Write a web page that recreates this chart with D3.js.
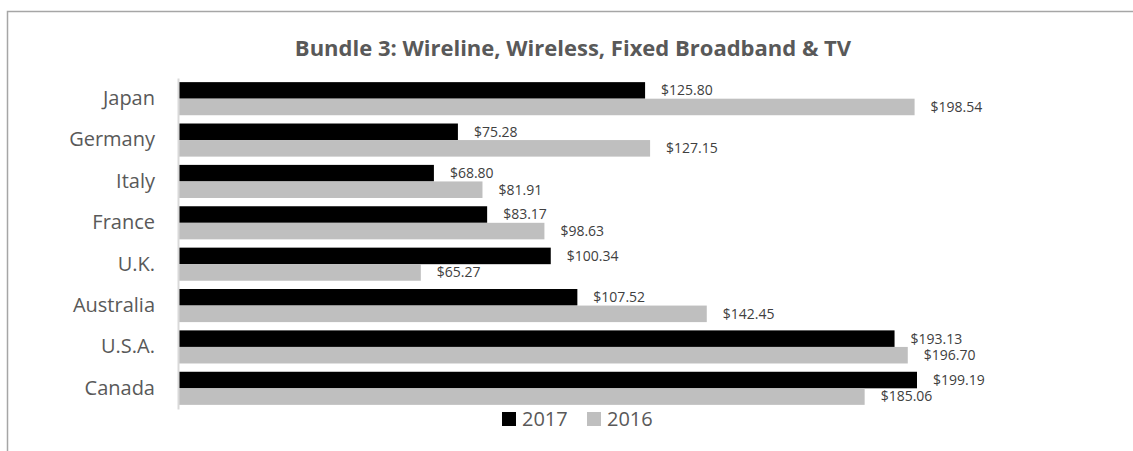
<!DOCTYPE html>
<html>
<head>
<meta charset="utf-8">
<script src="https://cdn.jsdelivr.net/npm/d3@7"></script>
<style>
  html, body { margin: 0; padding: 0; background: #fff; }
  svg { display: block; font-family: "Open Sans", sans-serif; }
</style>
</head>
<body>
<svg id="chart" width="1133" height="451"></svg>
<script>
// Monthly price of Bundle 3 by country, two years
const categories = ["Japan", "Germany", "Italy", "France", "U.K.", "Australia", "U.S.A.", "Canada"];
const values2017 = [125.80, 75.28, 68.80, 83.17, 100.34, 107.52, 193.13, 199.19];
const values2016 = [198.54, 127.15, 81.91, 98.63, 65.27, 142.45, 196.70, 185.06];
const seriesNames = ["2017", "2016"];
const seriesColors = ["#000000", "#bfbfbf"];
const title = "Bundle 3: Wireline, Wireless, Fixed Broadband & TV";

const svg = d3.select("#chart");

// outer frame
svg.append("path")
  .attr("d", "M7.5,451 L7.5,11.5 L1133,11.5")
  .attr("fill", "none")
  .attr("stroke", "#a6a6a6")
  .attr("stroke-width", 1.5);

svg.append("text")
  .attr("x", 573)
  .attr("y", 56)
  .attr("text-anchor", "middle")
  .attr("font-weight", "bold")
  .attr("font-size", 22)
  .attr("fill", "#595959")
  .text(title);

const x0 = 179;
const x = d3.scaleLinear().domain([0, 199.19]).range([x0, 917]);
const y = d3.scaleBand().domain(categories).range([78, 409]).paddingInner(0.2).paddingOuter(0.1);
const sub = d3.scaleBand().domain(seriesNames).range([0, y.bandwidth()]);

const rows = categories.map((c, i) => ({ cat: c, vals: [values2017[i], values2016[i]] }));

const g = svg.append("g");
const groups = g.selectAll("g.row").data(rows).join("g")
  .attr("transform", d => `translate(0,${y(d.cat)})`);

groups.selectAll("rect").data(d => d.vals.map((v, k) => ({ v, k })))
  .join("rect")
  .attr("x", x(0))
  .attr("y", d => sub(seriesNames[d.k]))
  .attr("width", d => x(d.v) - x(0))
  .attr("height", sub.bandwidth())
  .attr("fill", d => seriesColors[d.k]);

groups.selectAll("text.val").data(d => d.vals.map((v, k) => ({ v, k })))
  .join("text")
  .attr("class", "val")
  .attr("x", d => x(d.v) + 16)
  .attr("y", d => sub(seriesNames[d.k]) + sub.bandwidth() / 2)
  .attr("dy", "0.35em")
  .attr("font-size", 14)
  .attr("fill", "#404040")
  .text(d => "$" + d.v.toFixed(2));

// category axis
const axis = d3.axisLeft(y).tickSize(0).tickPadding(23);
const ax = svg.append("g").attr("transform", `translate(${x0 - 1},0)`).call(axis);
ax.select(".domain").attr("stroke", "#d9d9d9").attr("stroke-width", 2);
ax.selectAll("text")
  .attr("font-family", "'Open Sans', sans-serif")
  .attr("font-size", 20)
  .attr("fill", "#595959");

// legend
const legend = svg.append("g").attr("transform", "translate(502,412)");
const items = [{ name: seriesNames[0], x: 0 }, { name: seriesNames[1], x: 85 }];
items.forEach((it, k) => {
  legend.append("rect").attr("x", it.x).attr("y", 0).attr("width", 14).attr("height", 14)
    .attr("fill", seriesColors[k]);
  legend.append("text").attr("x", it.x + 20).attr("y", 7).attr("dy", "0.36em")
    .attr("font-size", 20).attr("fill", "#595959").text(it.name);
});
</script>
</body>
</html>
